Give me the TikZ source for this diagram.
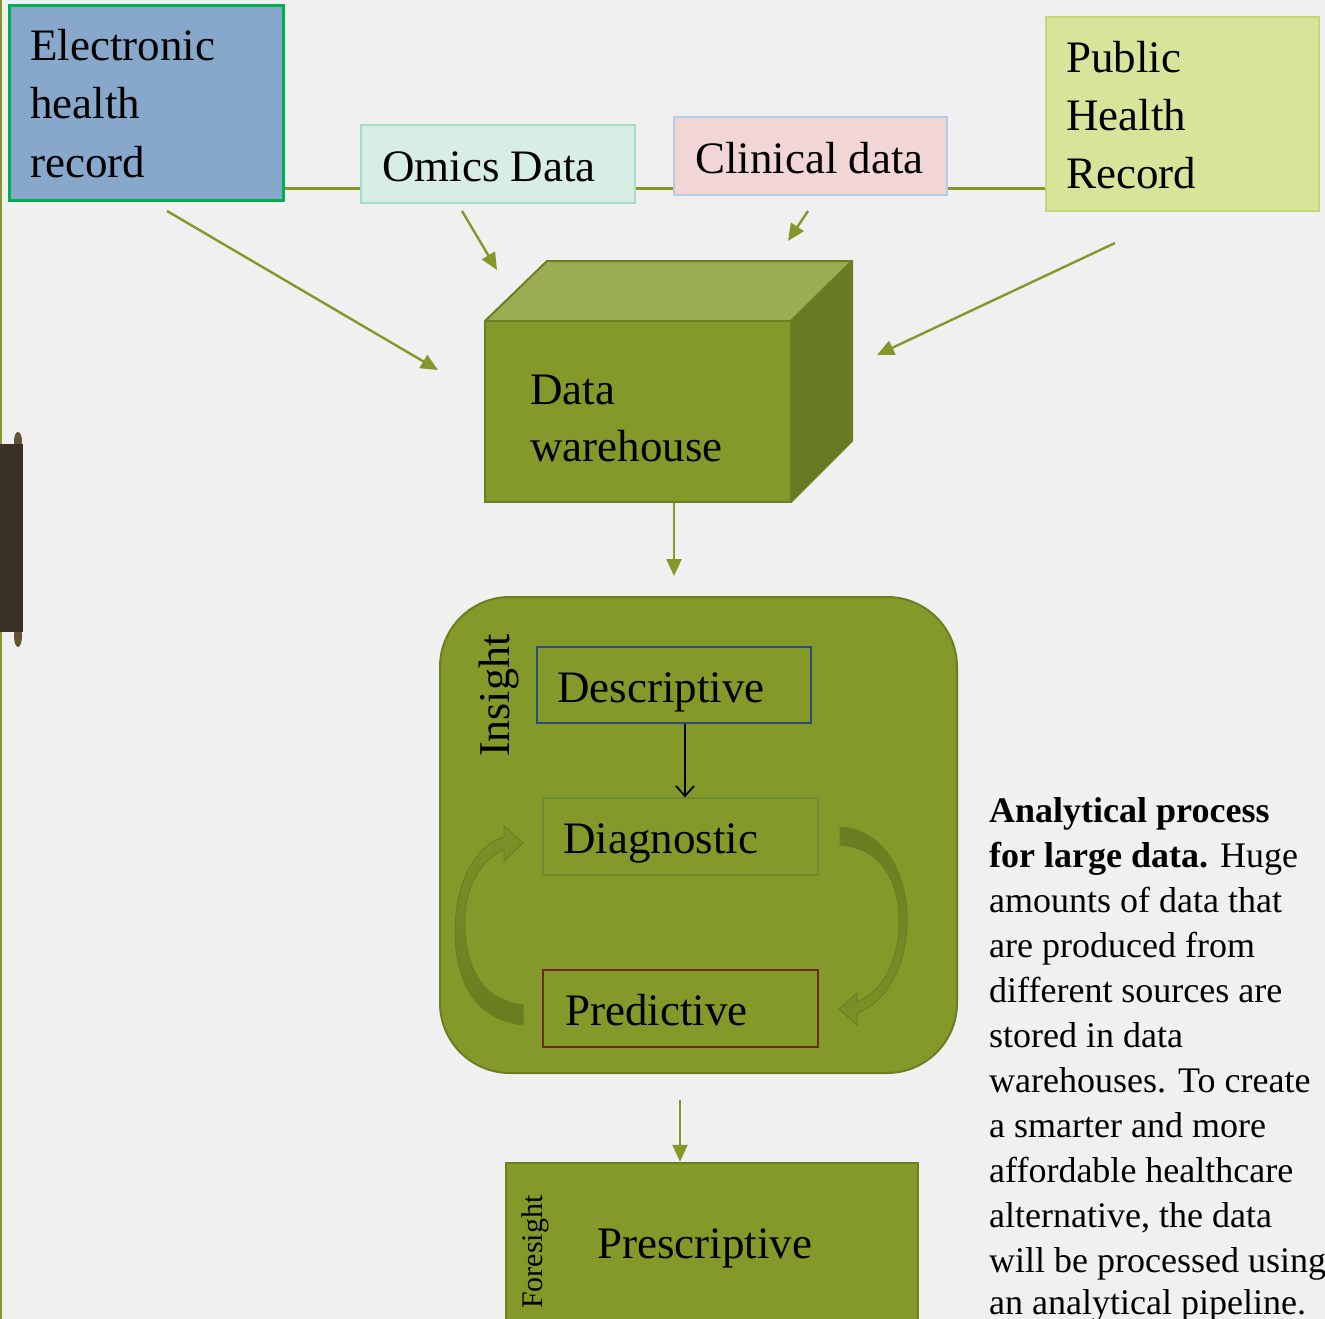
\documentclass[tikz,border=0pt]{standalone}
\usepackage{fontspec}
\setmainfont{Liberation Serif}
\usetikzlibrary{arrows.meta}
\definecolor{bg}{RGB}{240,240,240}
\definecolor{linecol}{RGB}{132,151,41}
\definecolor{olive}{RGB}{131,153,42}
\definecolor{oliveline}{RGB}{107,127,32}
\definecolor{olivetop}{RGB}{155,173,82}
\definecolor{oliveright}{RGB}{104,122,34}
\definecolor{olivedark}{RGB}{104,124,32}
\definecolor{ehrfill}{RGB}{135,167,203}
\definecolor{ehrline}{RGB}{0,176,80}
\definecolor{omicsfill}{RGB}{216,238,228}
\definecolor{omicsline}{RGB}{168,221,197}
\definecolor{clinfill}{RGB}{242,214,213}
\definecolor{clinline}{RGB}{180,205,229}
\definecolor{phrfill}{RGB}{215,229,154}
\definecolor{phrline}{RGB}{196,216,122}
\definecolor{descline}{RGB}{46,74,122}
\definecolor{diagline}{RGB}{110,138,48}
\definecolor{predline}{RGB}{107,42,30}
\definecolor{barcol}{RGB}{58,48,38}
\definecolor{bumpcol}{RGB}{100,82,52}
\begin{document}
\begin{tikzpicture}[x=1pt,y=-1pt,
  lbl/.style={font=\fontsize{45}{58}\selectfont, anchor=base west, inner sep=0pt, text=black},
  para/.style={font=\fontsize{36}{45}\selectfont, anchor=base west, inner sep=0pt, text=black},
  srcbox/.style={rectangle, inner sep=0pt},
  conn/.style={draw=linecol, line width=3pt},
  feed/.style={draw=linecol, line width=2.4pt, -{Triangle[length=17pt,width=15pt]}},
  inbox/.style={rectangle, inner sep=0pt, minimum width=275, minimum height=77, line width=1.3pt},
]
\useasboundingbox (0,0) rectangle (1325,1319);
\fill[bg] (0,0) rectangle (1325,1319);
\clip (0,0) rectangle (1325,1319);

% left edge decorations
\draw[linecol, line width=2pt] (1,0) -- (1,1319);
\fill[bumpcol] (18,441) ellipse (4 and 9);
\fill[bumpcol] (18,636) ellipse (4 and 11);
\fill[barcol] (0,444) rectangle (23,632);

% source boxes
\node[srcbox, fill=ehrfill, draw=ehrline, line width=3pt, minimum width=274, minimum height=194] (ehr) at (146,103) {};
\node[srcbox, fill=omicsfill, draw=omicsline, line width=2pt, minimum width=274, minimum height=78] (omics) at (498,164) {};
\node[srcbox, fill=clinfill, draw=clinline, line width=1.5pt, minimum width=273, minimum height=78] (clin) at (810.5,156) {};
\node[srcbox, fill=phrfill, draw=phrline, line width=1.5pt, minimum width=273, minimum height=194] (phr) at (1182.5,114) {};

\node[lbl] (ehr1) at (30,61) {Electronic};
\node[lbl] (ehr2) at (30,119) {health};
\node[lbl] (ehr3) at (30,177) {record};
\node[lbl] (omicst) at (382,181) {Omics Data};
\node[lbl] (clint) at (695,173) {Clinical data};
\node[lbl] (phr1) at (1066,73) {Public};
\node[lbl] (phr2) at (1066,131) {Health};
\node[lbl] (phr3) at (1066,188) {Record};

% horizontal connector
\coordinate (hl) at (0,188);
\draw[conn] (ehr.east |- hl) -- (omics.west |- hl);
\draw[conn] (omics.east |- hl) -- (clin.west |- hl);
\draw[conn] (clin.east |- hl) -- (phr.west |- hl);

% data warehouse cube
\fill[olivetop, draw=oliveline, line width=2pt, line join=round] (485,321) -- (547,261) -- (852,261) -- (791,321) -- cycle;
\fill[oliveright, draw=oliveline, line width=2pt, line join=round] (791,321) -- (852,261) -- (852,441) -- (791,502) -- cycle;
\node[rectangle, inner sep=0pt, fill=olive, draw=oliveline, line width=2pt, minimum width=306, minimum height=181] (dw) at (638,411.5) {};
\node[lbl] (dw1) at (530,404) {Data};
\node[lbl] (dw2) at (530,461) {warehouse};

% feed arrows
\coordinate (s1) at (167,211);
\coordinate (e1) at (438,370);
\coordinate (s2) at (462,211);
\coordinate (e2) at (497,270);
\coordinate (s3) at (808,211);
\coordinate (e3) at (788,241);
\coordinate (s4) at (1115,243);
\coordinate (e4) at (877,355);
\draw[feed] (s1) -- (e1);
\draw[feed] (s2) -- (e2);
\draw[feed] (s3) -- (e3);
\draw[feed] (s4) -- (e4);

% warehouse to insight
\coordinate (a1) at (674,576);
\draw[feed] (a1 |- dw.south) -- (a1);

% insight container
\node[rectangle, rounded corners=70pt, inner sep=0pt, fill=olive, draw=oliveline, line width=2pt, minimum width=517, minimum height=476] (ins) at (698.5,835) {};
\node[font=\fontsize{44}{50}\selectfont, rotate=90, anchor=base west, inner sep=0pt] (inst) at (509,757) {Insight};

\node[inbox, draw=descline, minimum width=274, minimum height=76] (desc) at (674,685) {};
\node[inbox, draw=diagline] (diag) at (680.5,836.5) {};
\node[inbox, draw=predline] (pred) at (680.5,1008.5) {};
\node[lbl] (desct) at (557,702) {Descriptive};
\node[lbl] (diagt) at (563,853) {Diagnostic};
\node[lbl] (predt) at (565,1025) {Predictive};

\coordinate (ax) at (685,0);
\draw[black, line width=1.8pt, -{Straight Barb[length=10pt,width=18pt]}] (desc.south -| ax) -- (diag.north -| ax);

% curved arrows
\shade[top color=olive!95!black, bottom color=olivedark, draw=oliveline, line width=1pt]
  (523,1025) .. controls (462,1018) and (452,960) .. (456,915)
  .. controls (460,870) and (483,842) .. (504,837)
  -- (504,826) -- (523,843) -- (504,861) -- (504,850)
  .. controls (486,856) and (467,880) .. (465,915)
  .. controls (463,960) and (478,1000) .. (523,1005) -- cycle;
\shade[top color=olivedark, bottom color=olive!95!black, draw=oliveline, line width=1pt]
  (840,827) .. controls (888,830) and (909,880) .. (907,925)
  .. controls (905,970) and (885,1003) .. (857,1013)
  -- (857,1025) -- (839,1009) -- (857,993) -- (857,1002)
  .. controls (880,993) and (898,965) .. (899,925)
  .. controls (900,880) and (880,848) .. (840,845) -- cycle;

% to prescriptive
\node[rectangle, inner sep=0pt, fill=olive, draw=oliveline, line width=2.5pt, minimum width=412, minimum height=236] (presc) at (712,1281) {};
\coordinate (a2) at (680,1100);
\draw[feed] (a2) -- (a2 |- presc.north);
\node[font=\fontsize{30}{36}\selectfont, rotate=90, anchor=base west, inner sep=0pt] (foret) at (542,1309) {Foresight};
\node[lbl] (presct) at (597,1258) {Prescriptive};

% caption text
\node[para] (p1) at (989,822) {\textbf{Analytical process}};
\node[para] (p2) at (989,867) {\textbf{for large data.} Huge};
\node[para] (p3) at (989,912) {amounts of data that};
\node[para] (p4) at (989,957) {are produced from};
\node[para] (p5) at (989,1002) {different sources are};
\node[para] (p6) at (989,1047) {stored in data};
\node[para] (p7) at (989,1092) {warehouses. To create};
\node[para] (p8) at (989,1137) {a smarter and more};
\node[para] (p9) at (989,1182) {affordable healthcare};
\node[para] (p10) at (989,1227) {alternative, the data};
\node[para] (p11) at (989,1272) {will be processed using};
\node[para] (p12) at (989,1314) {an analytical pipeline.};
\end{tikzpicture}
\end{document}
